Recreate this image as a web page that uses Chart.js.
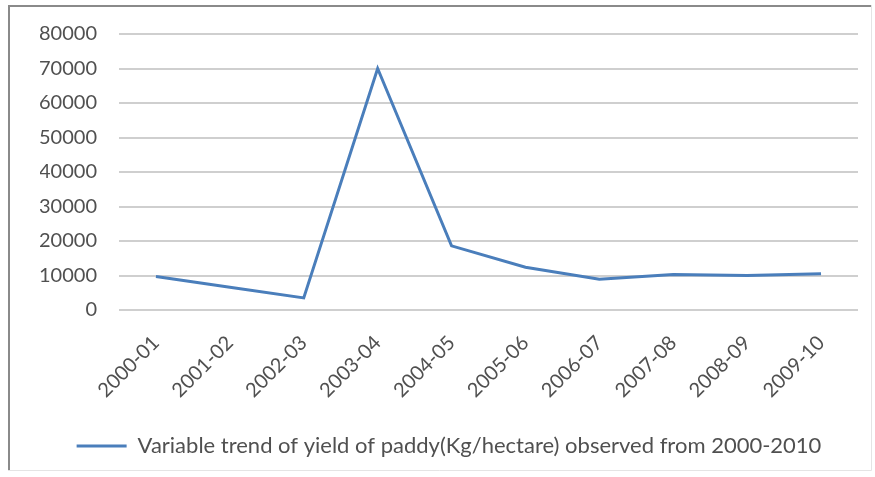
<!DOCTYPE html>
<html>
<head>
<meta charset="utf-8">
<script src="https://cdn.jsdelivr.net/npm/chart.js@4/dist/chart.umd.min.js"></script>
<style>
  html, body { margin: 0; padding: 0; background: #fff; }
  #wrap { position: relative; width: 875px; height: 477px; }
</style>
</head>
<body>
<div id="wrap"><canvas id="c" width="875" height="477"></canvas></div>
<script>
// Paddy yield by crop year (Kg/hectare)
const years = ['2000-01', '2001-02', '2002-03', '2003-04', '2004-05',
               '2005-06', '2006-07', '2007-08', '2008-09', '2009-10'];
const yieldKgPerHa = [9700, 6600, 3500, 70000, 18600, 12400, 8900, 10300, 10000, 10500];
const yTicks = [0, 10000, 20000, 30000, 40000, 50000, 60000, 70000, 80000];
const seriesLabel = 'Variable trend of yield of paddy(Kg/hectare) observed from 2000-2010';

const FONT = "Lato, 'Liberation Sans', sans-serif";
const TEXT = '#505050';

// Outer frame of the chart object
const framePlugin = {
  id: 'frame',
  beforeDraw(chart) {
    const ctx = chart.ctx;
    ctx.save();
    ctx.fillStyle = '#fff';
    ctx.fillRect(0, 0, chart.width, chart.height);
    ctx.strokeStyle = '#e4e4e4';
    ctx.lineWidth = 1;
    ctx.beginPath();
    ctx.moveTo(871.5, 5); ctx.lineTo(871.5, 470.5); ctx.lineTo(8, 470.5);
    ctx.stroke();
    ctx.strokeStyle = '#8a8a8a';
    ctx.lineWidth = 2;
    ctx.beginPath();
    ctx.moveTo(9, 470); ctx.lineTo(9, 6); ctx.lineTo(871, 6);
    ctx.stroke();
    ctx.restore();
  }
};

new Chart(document.getElementById('c'), {
  type: 'line',
  data: {
    labels: years,
    datasets: [{
      label: seriesLabel,
      data: yieldKgPerHa,
      borderColor: '#4a7ebb',
      backgroundColor: '#4a7ebb',
      borderWidth: 3,
      pointRadius: 0,
      tension: 0,
      fill: false
    }]
  },
  options: {
    responsive: false,
    animation: false,
    layout: { padding: { top: 31, right: 17, left: 40, bottom: 10 } },
    scales: {
      x: {
        offset: true,
        grid: { display: false, drawTicks: false },
        border: { display: false },
        ticks: {
          color: TEXT,
          font: { family: FONT, size: 20 },
          minRotation: 45, maxRotation: 45,
          padding: 21,
          autoSkip: false
        },
        afterFit(scale) { scale.height = 116; }
      },
      y: {
        min: 0, max: 80000,
        afterBuildTicks(scale) { scale.ticks = yTicks.map(v => ({ value: v })); },
        grid: { color: '#cfcfcf', lineWidth: 2, drawTicks: false },
        border: { display: false },
        ticks: {
          color: TEXT,
          font: { family: FONT, size: 20 },
          padding: 22,
          callback: v => String(v)
        },
        afterFit(scale) { scale.width = 79; }
      }
    },
    plugins: {
      legend: {
        position: 'bottom',
        labels: {
          color: TEXT,
          font: { family: FONT, size: 22 },
          boxWidth: 50,
          boxHeight: 3,
          padding: 9,
          generateLabels(chart) {
            const ds = chart.data.datasets[0];
            return [{
              text: ds.label,
              fillStyle: ds.borderColor,
              strokeStyle: ds.borderColor,
              lineWidth: 0,
              fontColor: TEXT,
              datasetIndex: 0
            }];
          }
        }
      },
      tooltip: { enabled: false }
    }
  },
  plugins: [framePlugin]
});
</script>
</body>
</html>
